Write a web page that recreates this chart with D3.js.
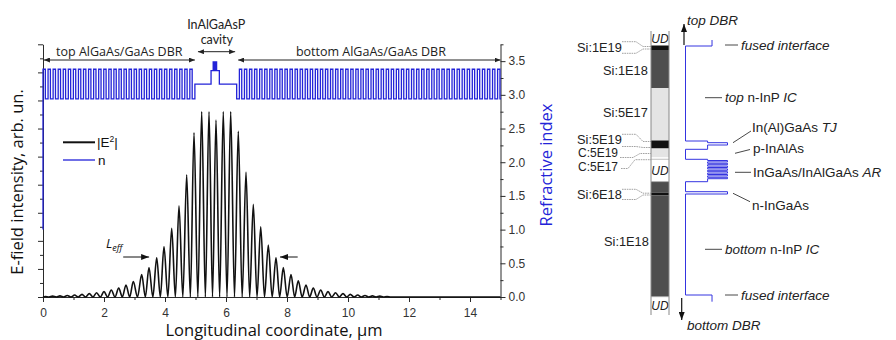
<!DOCTYPE html>
<html><head><meta charset="utf-8">
<script src="https://cdn.jsdelivr.net/npm/d3@7"></script>
<style>body{margin:0;background:#fff}svg{display:block}</style>
</head><body>
<svg id="c" width="896" height="340"></svg>
<script>
// ================= DATA: left chart =================
const xMajorTicks = [0, 2, 4, 6, 8, 10, 12, 14];
const xMinorTicks = [1, 3, 5, 7, 9, 11, 13, 15];
const nMajorTicks = [0, 0.5, 1, 1.5, 2, 2.5, 3, 3.5];
const nMinorTicks = [0.25, 0.75, 1.25, 1.75, 2.25, 2.75, 3.25, 3.75];
const eMajorTicks = [0, 2, 4, 6, 8, 10, 12, 14, 16, 18];
const eMinorTicks = [1, 3, 5, 7, 9, 11, 13, 15, 17];

// refractive index profile
const nAir = 1.0;
const dbrHighN = 3.38, dbrLowN = 2.94;          // GaAs / AlGaAs
const dbrHighThk = 0.077, dbrLowThk = 0.089;    // µm
const topDbrPairs = 30, bottomDbrPairs = 53;
const cavityN   = [3.16, 3.36, 3.49, 3.36, 3.49, 3.36, 3.49, 3.36, 3.49, 3.36, 3.16];
const cavityThk = [0.53, 0.07, 0.01, 0.024, 0.01, 0.024, 0.01, 0.024, 0.01, 0.09, 0.568];

// |E|^2 standing-wave maxima (position µm, intensity arb. un.)
const ePeakX = [0.075, 0.315, 0.557, 0.797, 1.036, 1.279, 1.518, 1.757, 2.0, 2.239, 2.482, 2.721,
  2.961, 3.236, 3.475, 3.728, 3.967, 4.220, 4.459, 4.711, 4.951, 5.203, 5.443, 5.672,
  5.911, 6.154, 6.403, 6.656, 6.895, 7.138, 7.387, 7.639, 7.879, 8.131, 8.370, 8.623,
  8.862, 9.105, 9.344, 9.593, 9.836, 10.075, 10.318, 10.557, 10.800, 11.043, 11.28];
const ePeakH = [0.04, 0.06, 0.08, 0.11, 0.14, 0.19, 0.24, 0.3, 0.38, 0.5, 0.64, 0.86,
  1.1, 1.6, 2.1, 2.8, 3.6, 4.9, 6.5, 8.7, 11.7, 13.2, 13.2, 12.6,
  13.2, 13.2, 11.8, 8.9, 6.6, 5.0, 3.7, 2.8, 2.1, 1.6, 1.15, 0.86,
  0.64, 0.5, 0.38, 0.3, 0.24, 0.19, 0.14, 0.11, 0.08, 0.06, 0.04];

// ================= DATA: right diagram =================
// doping column (depth in schematic units)
const colNames  = ["UD", "Si:1E19", "Si:1E18", "Si:5E17", "Si:5E19", "C:5E19", "C:5E17", "UD", "Si:1E18", "Si:6E18", "Si:1E18", "UD"];
const colBounds = [0, 14.5, 19, 57, 109.5, 117.5, 126.3, 128.3, 150.7, 161.7, 164.5, 265.7, 284];
// refractive index profile of the cavity
const rStartDepth = 9;
const rN   = [3.41, 3.17, 3.37, 3.55, 3.37, 3.17,
  3.37, 3.55, 3.37, 3.55, 3.37, 3.55, 3.37, 3.55, 3.37, 3.55, 3.37, 3.55, 3.37, 3.55, 3.37,
  3.17, 3.55, 3.17, 3.41];
const rThk = [6, 95, 1.7, 2.3, 4.3, 10,
  1.2, 1.4, 1.4, 1.4, 1.4, 1.4, 1.4, 1.4, 1.4, 1.4, 1.4, 1.4, 1.4, 1.4, 3.0,
  10, 2.3, 101, 6.7];

// ================= DRAW =================
const svg = d3.select("#c");
const blue = "#2323d8";
const axisCol = "#2a2a2a";
const tickFont = "'Liberation Sans', Arial, sans-serif";
const titleFont = "'Open Sans', 'Noto Sans', sans-serif";

const x = d3.scaleLinear([0, 15], [43, 500.5]);
const yN = d3.scaleLinear([0, 3.75], [297, 44.3]);
const yE = d3.scaleLinear([0, 18], [297, 44.3]);

const defs = svg.append("defs");
defs.append("clipPath").attr("id", "plotClip").append("rect")
  .attr("x", 42).attr("y", 30).attr("width", 459).attr("height", 270);
function marker(id, w, h, color) {
  defs.append("marker").attr("id", id).attr("viewBox", `0 0 ${w} ${h}`)
    .attr("refX", w).attr("refY", h / 2).attr("markerWidth", w).attr("markerHeight", h)
    .attr("markerUnits", "userSpaceOnUse").attr("orient", "auto-start-reverse")
    .append("path").attr("d", `M0,0L${w},${h / 2}L0,${h}Z`).attr("fill", color);
}
marker("ah", 6, 5, "#222");
marker("ahL", 8, 6, "#111");

// ----- axes -----
function styleAxis(g) {
  g.selectAll("path,line").attr("stroke", axisCol).attr("stroke-width", 1);
  g.selectAll("text").attr("font-family", tickFont).attr("font-size", 12).attr("fill", "#333");
}
svg.append("g").attr("transform", "translate(0,297)")
  .call(d3.axisBottom(x).tickValues(xMajorTicks).tickSize(5).tickSizeOuter(0).tickPadding(6).tickFormat(d3.format("d")))
  .call(styleAxis);
svg.append("g").attr("transform", "translate(0,297)")
  .call(d3.axisBottom(x).tickValues(xMinorTicks).tickSize(3).tickSizeOuter(0).tickFormat(""))
  .call(styleAxis).select(".domain").remove();

svg.append("g").attr("transform", "translate(43,0)")
  .call(d3.axisLeft(yE).tickValues(eMajorTicks).tickSize(5).tickSizeOuter(0).tickFormat(""))
  .call(styleAxis);
svg.append("g").attr("transform", "translate(43,0)")
  .call(d3.axisLeft(yE).tickValues(eMinorTicks).tickSize(3).tickSizeOuter(0).tickFormat(""))
  .call(styleAxis).select(".domain").remove();

svg.append("g").attr("transform", "translate(500.5,0)")
  .call(d3.axisRight(yN).tickValues(nMajorTicks).tickSize(5).tickSizeOuter(0).tickPadding(3).tickFormat(d3.format(".1f")))
  .call(styleAxis);
svg.append("g").attr("transform", "translate(500.5,0)")
  .call(d3.axisRight(yN).tickValues(nMinorTicks).tickSize(3).tickSizeOuter(0).tickFormat(""))
  .call(styleAxis).select(".domain").remove();

// ----- n profile -----
const layers = [];
for (let i = 0; i < topDbrPairs; i++) { layers.push([dbrHighN, dbrHighThk], [dbrLowN, dbrLowThk]); }
cavityN.forEach((n, i) => layers.push([n, cavityThk[i]]));
for (let i = 0; i < bottomDbrPairs; i++) { layers.push([dbrLowN, dbrLowThk], [dbrHighN, dbrHighThk]); }
const nPts = [[0, nAir]];
let z = 0;
layers.forEach(([n, t]) => { nPts.push([z, n]); z += t; nPts.push([z, n]); });

const plot = svg.append("g").attr("clip-path", "url(#plotClip)");
plot.append("path").datum(nPts)
  .attr("d", d3.line().x(d => x(d[0])).y(d => yN(d[1])))
  .attr("fill", "none").attr("stroke", blue).attr("stroke-width", 1.3);

// ----- |E|^2 -----
const ePts = [[0, 0]];
ePeakX.forEach((px, i) => {
  if (i > 0) ePts.push([(ePeakX[i - 1] + px) / 2, 0]);
  ePts.push([px, ePeakH[i]]);
});
ePts.push([ePeakX[ePeakX.length - 1] + 0.12, 0], [15, 0]);
plot.append("path").datum(ePts)
  .attr("d", d3.line().x(d => x(d[0])).y(d => yE(d[1])).curve(d3.curveMonotoneX))
  .attr("fill", "none").attr("stroke", "#111").attr("stroke-width", 1.6);

// ----- region annotations -----
const ann = svg.append("g").attr("font-family", titleFont).attr("fill", "#222");
function dblArrow(x1, x2, y) {
  svg.append("line").attr("x1", x1).attr("x2", x2).attr("y1", y).attr("y2", y)
    .attr("stroke", "#222").attr("stroke-width", 1)
    .attr("marker-start", "url(#ah)").attr("marker-end", "url(#ah)");
}
dblArrow(x(0.03), x(4.98), 60);
dblArrow(x(5.08), x(6.3), 51.7);
dblArrow(x(6.4), x(15), 60);
ann.append("text").attr("x", x(2.5)).attr("y", 55.5).attr("text-anchor", "middle").attr("font-size", 12.5).text("top AlGaAs/GaAs DBR");
ann.append("text").attr("x", x(5.68)).attr("y", 28.5).attr("text-anchor", "middle").attr("font-size", 12.5)
  .attr("font-family", "Lato, 'Liberation Sans', sans-serif").text("InAlGaAsP");
ann.append("text").attr("x", x(5.7)).attr("y", 44).attr("text-anchor", "middle").attr("font-size", 12.5)
  .attr("font-family", "Lato, 'Liberation Sans', sans-serif").text("cavity");
ann.append("text").attr("x", x(10.75)).attr("y", 55.5).attr("text-anchor", "middle").attr("font-size", 12.5).text("bottom AlGaAs/GaAs DBR");

// L_eff
svg.append("line").attr("x1", x(2.63)).attr("x2", x(3.48)).attr("y1", 257).attr("y2", 257)
  .attr("stroke", "#111").attr("marker-end", "url(#ahL)");
svg.append("line").attr("x1", x(8.35)).attr("x2", x(7.77)).attr("y1", 257).attr("y2", 257)
  .attr("stroke", "#111").attr("marker-end", "url(#ahL)");
const le = svg.append("text").attr("x", 106).attr("y", 247.5).attr("font-family", titleFont)
  .attr("font-style", "italic").attr("font-size", 13).attr("fill", "#111");
le.append("tspan").text("L");
le.append("tspan").attr("font-size", 9).attr("dy", 3).text("eff");

// legend
svg.append("line").attr("x1", 63).attr("x2", 95).attr("y1", 142.3).attr("y2", 142.3).attr("stroke", "#111").attr("stroke-width", 2);
svg.append("line").attr("x1", 63).attr("x2", 95).attr("y1", 160).attr("y2", 160).attr("stroke", "#6f6fe6").attr("stroke-width", 2);
const lg = svg.append("text").attr("x", 97).attr("y", 147).attr("font-family", tickFont).attr("font-size", 13.5).attr("fill", "#111");
lg.append("tspan").text("|E");
lg.append("tspan").attr("font-size", 8.5).attr("dy", -5.5).text("2");
lg.append("tspan").attr("dy", 5.5).text("|");
svg.append("text").attr("x", 98).attr("y", 164.5).attr("font-family", tickFont).attr("font-size", 13.5).attr("fill", "#111").text("n");

// axis titles
svg.append("text").attr("transform", "translate(23,182) rotate(-90)").attr("text-anchor", "middle")
  .attr("font-family", titleFont).attr("font-size", 16.5).attr("fill", "#111").text("E-field intensity, arb. un.");
svg.append("text").attr("x", 274).attr("y", 336).attr("text-anchor", "middle")
  .attr("font-family", titleFont).attr("font-size", 16.5).attr("fill", "#111").text("Longitudinal coordinate, \u00b5m");
svg.append("text").attr("transform", "translate(552,165) rotate(-90)").attr("text-anchor", "middle")
  .attr("font-family", titleFont).attr("font-size", 16.5).attr("fill", blue).text("Refractive index");

// ================= RIGHT DIAGRAM =================
const yD = d3.scaleLinear([0, 284], [31, 315]);
const colX0 = 651, colX1 = 669;
const colColor = d3.scaleOrdinal()
  .domain(["UD", "Si:1E19", "Si:1E18", "Si:5E17", "Si:5E19", "C:5E19", "C:5E17", "Si:6E18"])
  .range(["#ffffff", "#111111", "#4e4e4e", "#e4e4e4", "#111111", "#e4e4e4", "#fbfbfb", "#111111"]);
const col = svg.append("g");
colNames.forEach((nm, i) => {
  col.append("rect").attr("x", colX0).attr("width", colX1 - colX0)
    .attr("y", yD(colBounds[i])).attr("height", yD(colBounds[i + 1]) - yD(colBounds[i]))
    .attr("fill", colColor(nm));
  if (nm === "UD") {
    col.append("text").attr("x", (colX0 + colX1) / 2)
      .attr("y", (yD(colBounds[i]) + yD(colBounds[i + 1])) / 2 + 4.5)
      .attr("text-anchor", "middle").attr("font-family", tickFont).attr("font-style", "italic")
      .attr("font-size", 12).attr("fill", "#222").text("UD");
  }
});
[colX0, colX1].forEach(cx => col.append("line").attr("x1", cx).attr("x2", cx)
  .attr("y1", yD(0)).attr("y2", yD(284)).attr("stroke", "#888").attr("stroke-width", 1));
[colBounds[7], colBounds[8], colBounds[11]].forEach(b => col.append("line").attr("x1", colX0).attr("x2", colX1)
  .attr("y1", yD(b)).attr("y2", yD(b)).attr("stroke", "#999").attr("stroke-width", 0.6));

// column labels
const lab = svg.append("g").attr("font-family", tickFont).attr("font-size", 12.8).attr("fill", "#222");
function colLabel(txt, xx, yy, fs) {
  const t = lab.append("text").attr("x", xx).attr("y", yy).text(txt);
  if (fs) t.attr("font-size", fs);
}
colLabel("Si:1E19", 577, 52.3);
colLabel("Si:1E18", 603, 74.5);
colLabel("Si:5E17", 603, 117.3);
colLabel("Si:5E19", 577, 144.3);
colLabel("C:5E19", 578, 157.3, 12);
colLabel("C:5E17", 578, 170.6, 12);
colLabel("Si:6E18", 577, 198.8);
colLabel("Si:1E18", 604, 246.2);

const cl = svg.append("g").attr("fill", "none").attr("stroke", "#8a8a8a").attr("stroke-width", 0.8).attr("stroke-dasharray", "1.6,0.8");
const ln = d3.line();
function funnel(yt, yb, lt, lb) {
  cl.append("path").attr("d", ln([[622, yt], [636, yt], [643, lt], [651, lt]]));
  cl.append("path").attr("d", ln([[622, yb], [636, yb], [643, lb], [651, lb]]));
}
funnel(41.7, 53.3, yD(colBounds[1]) + 1, yD(colBounds[2]) - 1);
funnel(134.3, 146.5, yD(colBounds[4]) + 1, yD(colBounds[5]) - 1);
funnel(189.3, 199.5, yD(colBounds[9]) + 0.5, yD(colBounds[10]) - 0.5);
cl.append("path").attr("d", ln([[620, 157.5], [633, 157.5], [640, 153.5], [651, 153.5]]));
cl.append("path").attr("d", ln([[621, 168.5], [628, 168.5], [635, 159.7], [651, 159.7]]));

// cavity n profile
const rx = d3.scaleLinear([3.17, 3.55], [685.5, 727.5]);
const rPts = [];
let dd = rStartDepth;
rN.forEach((n, i) => { rPts.push([n, dd]); dd += rThk[i]; rPts.push([n, dd]); });
svg.append("path").datum(rPts)
  .attr("d", d3.line().x(d => rx(d[0])).y(d => yD(d[1])))
  .attr("fill", "none").attr("stroke", "#3434e0").attr("stroke-width", 1);

// DBR arrows
svg.append("line").attr("x1", 684).attr("x2", 684).attr("y1", 45).attr("y2", 24)
  .attr("stroke", "#111").attr("stroke-width", 1.2).attr("marker-end", "url(#ahL)");
svg.append("line").attr("x1", 681.7).attr("x2", 681.7).attr("y1", 298).attr("y2", 320)
  .attr("stroke", "#111").attr("stroke-width", 1.2).attr("marker-end", "url(#ahL)");
const rt = svg.append("g").attr("font-family", tickFont).attr("font-size", 13.5).attr("fill", "#222");
rt.append("text").attr("x", 687).attr("y", 24.5).attr("font-style", "italic").text("top DBR");
rt.append("text").attr("x", 687).attr("y", 330).attr("font-style", "italic").text("bottom DBR");

// right-hand labels
const lc = svg.append("g").attr("stroke", "#333").attr("stroke-width", 0.9).attr("fill", "none");
function seg(x1, y1, x2, y2) { lc.append("line").attr("x1", x1).attr("y1", y1).attr("x2", x2).attr("y2", y2); }
function mixed(xx, yy, parts) {
  const t = rt.append("text").attr("x", xx).attr("y", yy);
  parts.forEach(([s, it]) => t.append("tspan").attr("font-style", it ? "italic" : "normal").text(s));
}
seg(725, 45, 738, 45);   mixed(741, 49.7, [["fused interface", 1]]);
seg(705, 97.7, 722, 97.7); mixed(725, 102.3, [["top", 1], [" n-InP ", 0], ["IC", 1]]);
seg(733, 142.7, 751, 131); mixed(752, 131.5, [["In(Al)GaAs ", 0], ["TJ", 1]]);
seg(735, 153.3, 750, 149.5); mixed(753, 153.3, [["p-InAlAs", 0]]);
seg(735, 172.3, 751, 172.3); mixed(753, 177, [["InGaAs/InAlGaAs ", 0], ["AR", 1]]);
seg(733, 193.3, 750, 201.7); mixed(752, 210, [["n-InGaAs", 0]]);
seg(705, 249.3, 722, 249.3); mixed(725, 254, [["bottom", 1], [" n-InP ", 0], ["IC", 1]]);
seg(725, 295, 738, 295);  mixed(741, 299.7, [["fused interface", 1]]);
</script>
</body></html>
